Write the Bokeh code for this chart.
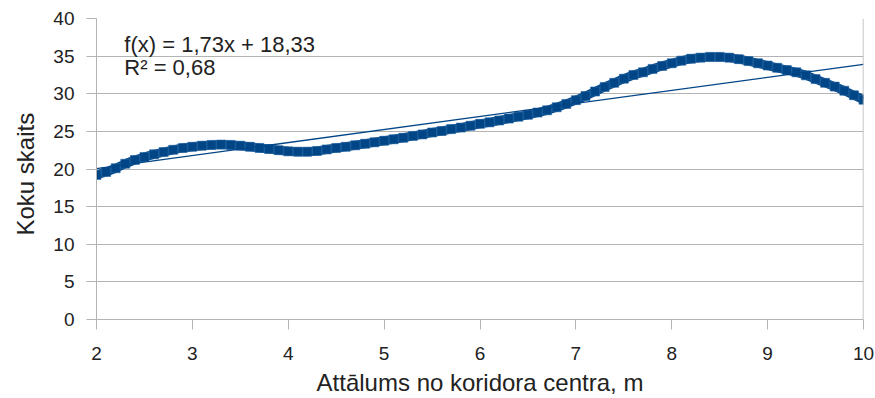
from bokeh.plotting import figure
from bokeh.models import FixedTicker, Label, Span, Range1d, Title
from bokeh.embed import file_html
from bokeh.resources import INLINE

# Distance from corridor centre, m
dist = [2.0, 2.1, 2.2, 2.3, 2.4, 2.5, 2.6, 2.7, 2.8, 2.9,
        3.0, 3.1, 3.2, 3.3, 3.4, 3.5, 3.6, 3.7, 3.8, 3.9,
        4.0, 4.1, 4.2, 4.3, 4.4, 4.5, 4.6, 4.7, 4.8, 4.9,
        5.0, 5.1, 5.2, 5.3, 5.4, 5.5, 5.6, 5.7, 5.8, 5.9,
        6.0, 6.1, 6.2, 6.3, 6.4, 6.5, 6.6, 6.7, 6.8, 6.9,
        7.0, 7.1, 7.2, 7.3, 7.4, 7.5, 7.6, 7.7, 7.8, 7.9,
        8.0, 8.1, 8.2, 8.3, 8.4, 8.5, 8.6, 8.7, 8.8, 8.9,
        9.0, 9.1, 9.2, 9.3, 9.4, 9.5, 9.6, 9.7, 9.8, 9.9, 10.0]
# Tree count
trees = [19.2, 19.6, 20.1, 20.7, 21.2, 21.6, 21.95, 22.25, 22.55, 22.8,
         22.95, 23.1, 23.2, 23.25, 23.2, 23.1, 22.95, 22.8, 22.65, 22.5,
         22.35, 22.3, 22.3, 22.4, 22.6, 22.8, 22.95, 23.15, 23.35, 23.55,
         23.75, 23.95, 24.15, 24.4, 24.6, 24.85, 25.05, 25.3, 25.5, 25.75,
         26.0, 26.2, 26.45, 26.7, 26.95, 27.2, 27.5, 27.8, 28.2, 28.65,
         29.15, 29.7, 30.3, 30.9, 31.45, 32.0, 32.5, 32.85, 33.3, 33.7,
         34.05, 34.4, 34.65, 34.8, 34.9, 34.9, 34.8, 34.6, 34.35, 34.05,
         33.75, 33.45, 33.15, 32.85, 32.45, 31.95, 31.45, 30.95, 30.4, 29.8, 29.2]

# Linear trend line end points
trend_x = [2, 10]
trend_y = [20.05, 33.9]

x_ticks = [2, 3, 4, 5, 6, 7, 8, 9, 10]
y_ticks = [0, 5, 10, 15, 20, 25, 30, 35, 40]

eq_text = "f(x) = 1,73x + 18,33"
r2_text = "R² = 0,68"
x_title = "Attālums no koridora centra, m"
y_title = "Koku skaits"

BLUE = "#004586"
GRID = "#b3b3b3"
FONT = "Liberation Sans"
TXT = "#222222"

p = figure(width=875, height=398, output_backend="svg", toolbar_location=None,
           x_range=Range1d(2, 10), y_range=Range1d(0, 40),
           min_border_left=96, min_border_right=12, min_border_top=18, min_border_bottom=73)
p.outline_line_color = None
p.background_fill_color = "white"

p.xgrid.grid_line_color = None
p.ygrid.grid_line_color = GRID
p.ygrid.grid_line_width = 1

p.xaxis.ticker = FixedTicker(ticks=x_ticks)
p.yaxis.ticker = FixedTicker(ticks=y_ticks)
for ax in (p.xaxis, p.yaxis):
    ax.axis_line_color = GRID
    ax.major_tick_line_color = GRID
    ax.minor_tick_line_color = None
    ax.major_tick_in = 0
    ax.major_tick_out = 10
    ax.major_label_text_font = FONT
    ax.major_label_text_font_size = "19px"
    ax.major_label_text_color = TXT
    ax.axis_label_text_font = FONT
    ax.axis_label_text_font_size = "24px"
    ax.axis_label_text_font_style = "normal"
    ax.axis_label_text_color = TXT

p.xaxis.axis_label = x_title
p.xaxis.major_label_standoff = 17
p.xaxis.axis_label_standoff = 6
p.yaxis.major_label_standoff = 12

p.add_layout(Title(text=y_title, align="left", offset=84, standoff=20,
                   vertical_align="top",
                   text_font=FONT, text_font_size="24px", text_font_style="normal",
                   text_color=TXT), "left")

p.add_layout(Span(location=10, dimension="height", line_color=GRID, line_width=1.5))

p.line(dist, trees, line_color=BLUE, line_width=9)
p.scatter(dist, trees, marker="square", size=9, fill_color=BLUE,
          line_color="#2a6aa6", line_width=0.6)
p.line(trend_x, trend_y, line_color=BLUE, line_width=1.3)

p.add_layout(Label(x=2.29, y=36.5, text=eq_text, text_font=FONT, text_font_size="22px",
                   text_color=TXT, text_baseline="alphabetic"))
p.add_layout(Label(x=2.29, y=33.5, text=r2_text, text_font=FONT, text_font_size="22px",
                   text_color=TXT, text_baseline="alphabetic"))

open("out.html", "w").write(file_html(p, INLINE))
